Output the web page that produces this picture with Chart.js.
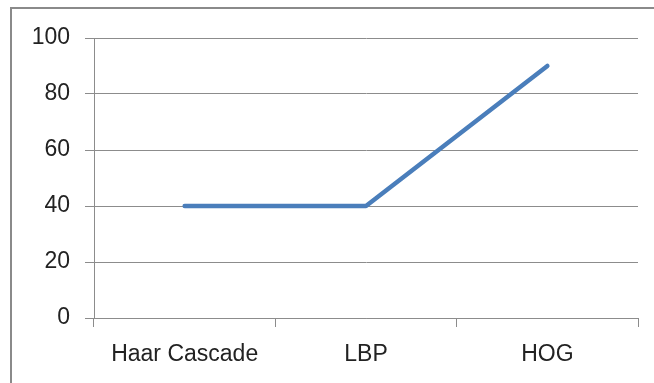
<!DOCTYPE html>
<html>
<head>
<meta charset="utf-8">
<script src="https://cdn.jsdelivr.net/npm/chart.js@4"></script>
<style>
  html, body { margin: 0; padding: 0; background: #fff; }
  #frame { position: absolute; left: 10px; top: 7px; width: 700px; height: 420px;
           border-left: 2px solid #8a8a8a; border-top: 2px solid #8a8a8a; }
  #wrap { position: absolute; left: 0; top: 0; width: 654px; height: 383px; }
</style>
</head>
<body>
<div id="frame"></div>
<div id="wrap"><canvas id="c" width="654" height="383"></canvas></div>
<script>
const categories = ["Haar Cascade", "LBP", "HOG"];
const seriesValues = [40, 40, 90];
const yTicks = [0, 20, 40, 60, 80, 100];

const gridColor = "#8c8c8c";
new Chart(document.getElementById("c"), {
  type: "line",
  data: {
    labels: categories,
    datasets: [{
      data: seriesValues,
      borderColor: "#4a7ebb",
      borderWidth: 4.5,
      pointRadius: 0,
      pointHoverRadius: 0,
      tension: 0,
      borderCapStyle: "round",
      borderJoinStyle: "round"
    }]
  },
  options: {
    responsive: false,
    animation: false,
    events: [],
    plugins: { legend: { display: false }, tooltip: { enabled: false } },
    layout: { padding: { left: 0, top: 38, right: 16, bottom: 0 } },
    scales: {
      x: {
        offset: true,
        grid: { offset: true, drawOnChartArea: false, drawTicks: true, tickLength: 9, color: gridColor, lineWidth: 1 },
        border: { display: true, color: gridColor, width: 1 },
        ticks: { color: "#222", font: { family: "Liberation Sans", size: 23 }, padding: 14, maxRotation: 0 },
        afterFit: (s) => { s.height = 65; }
      },
      y: {
        min: 0, max: 100,
        afterBuildTicks: (s) => { s.ticks = yTicks.map(v => ({ value: v })); },
        grid: { color: gridColor, lineWidth: 1, tickLength: 9 },
        border: { display: true, color: gridColor, width: 1 },
        ticks: { color: "#222", font: { family: "Liberation Sans", size: 23 }, padding: 15 },
        afterFit: (s) => { s.width = 94; }
      }
    }
  }
});
</script>
</body>
</html>
